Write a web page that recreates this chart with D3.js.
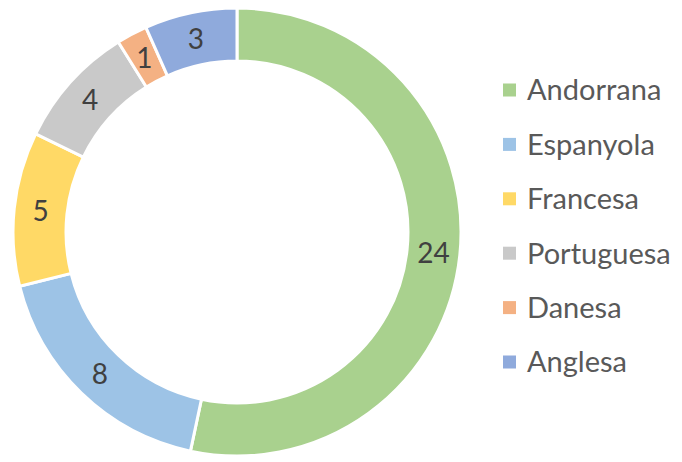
<!DOCTYPE html>
<html>
<head>
<meta charset="utf-8">
<script src="https://cdn.jsdelivr.net/npm/d3@7"></script>
<style>
  body { margin: 0; background: #fff; }
  svg { display: block; }
</style>
</head>
<body>
<svg></svg>
<script>
const categories = ["Andorrana", "Espanyola", "Francesa", "Portuguesa", "Danesa", "Anglesa"];
const values = [24, 8, 5, 4, 1, 3];
const colors = ["#A9D18E", "#9DC3E6", "#FFD966", "#C9C9C9", "#F4B183", "#8FAADC"];

let width = 682;
let height = 462;
let cx = 237;
let cy = 232;
let outerR = 224;
let innerR = 171;

const svg = d3.select("svg").attr("width", width).attr("height", height);

const pie = d3.pie().sort(null).value((d) => d);
const arc = d3.arc().innerRadius(innerR).outerRadius(outerR);
const labelArc = d3.arc().innerRadius((innerR + outerR) / 2).outerRadius((innerR + outerR) / 2);

const arcs = pie(values);

const g = svg.append("g").attr("transform", `translate(${cx}, ${cy})`);

g.selectAll("path")
  .data(arcs)
  .enter()
  .append("path")
  .attr("d", arc)
  .attr("fill", (d, i) => colors[i])
  .attr("stroke", "#fff")
  .attr("stroke-width", 3);

g.selectAll("text")
  .data(arcs)
  .enter()
  .append("text")
  .attr("transform", (d) => `translate(${labelArc.centroid(d)})`)
  .attr("text-anchor", "middle")
  .attr("dy", "0.36em")
  .attr("font-family", "Lato, 'Open Sans', sans-serif")
  .attr("font-size", 28)
  .attr("fill", "#404040")
  .text((d) => d.data);

const legend = svg.append("g").attr("transform", "translate(503, 90)");

const rows = legend.selectAll("g")
  .data(categories)
  .enter()
  .append("g")
  .attr("transform", (d, i) => `translate(0, ${i * 54.4})`);

rows.append("rect")
  .attr("x", 0)
  .attr("y", -6.5)
  .attr("width", 13)
  .attr("height", 13)
  .attr("fill", (d, i) => colors[i]);

rows.append("text")
  .attr("x", 24)
  .attr("dy", "0.36em")
  .attr("font-family", "Lato, 'Open Sans', sans-serif")
  .attr("font-size", 29)
  .attr("fill", "#595959")
  .text((d) => d);
</script>
</body>
</html>
